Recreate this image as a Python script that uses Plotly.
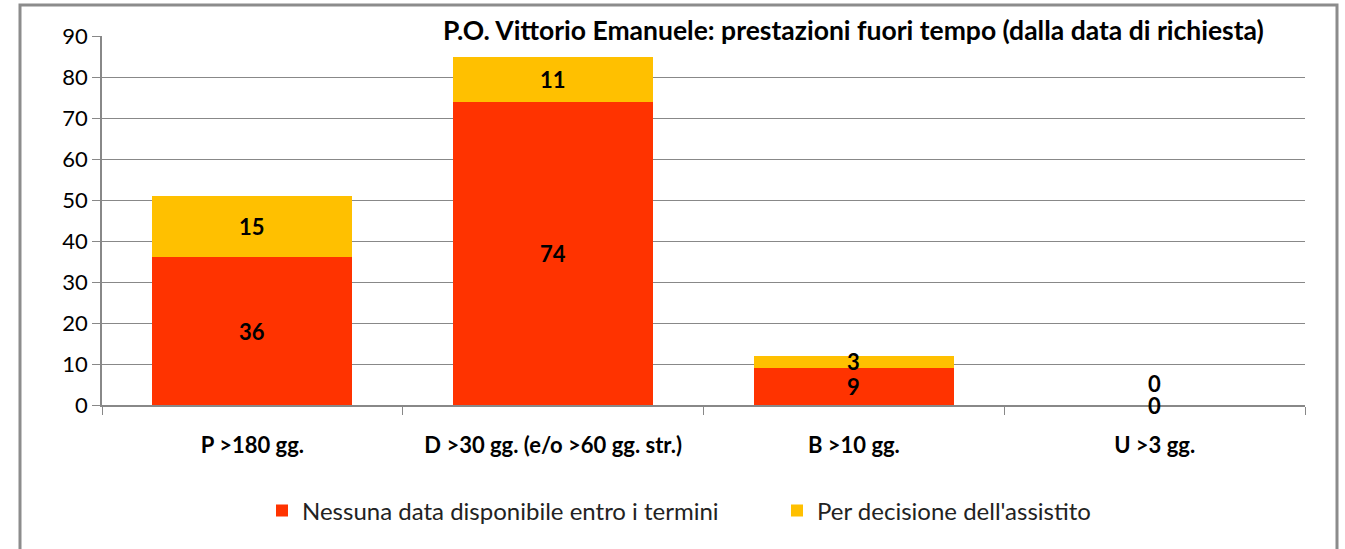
import plotly.graph_objects as go

categories = ["P >180 gg.", "D >30 gg. (e/o >60 gg. str.)", "B >10 gg.", "U >3 gg."]
series_names = ["Nessuna data disponibile entro i termini", "Per decisione dell'assistito"]
red_values = [36, 74, 9, 0]
yellow_values = [15, 11, 3, 0]
colors = ["#FF3300", "#FFC000"]
title_text = "P.O. Vittorio Emanuele: prestazioni fuori tempo (dalla data di richiesta)"

FONT = "Lato"
W, H = 1345, 549
L, R, T, B = 102, 40, 36, 144
pw = W - L - R
ph = H - T - B

fig = go.Figure()
fig.add_trace(go.Bar(x=categories, y=red_values, name=series_names[0],
                     marker=dict(color=colors[0], line=dict(width=0))))
fig.add_trace(go.Bar(x=categories, y=yellow_values, name=series_names[1],
                     marker=dict(color=colors[1], line=dict(width=0))))

annotations = []
for c, rv, yv in zip(categories, red_values, yellow_values):
    annotations.append(dict(x=c, y=rv / 2, text=f"<b>{rv}</b>", showarrow=False,
                            font=dict(family=FONT, size=22, color="black"),
                            xref="x", yref="y"))
    annotations.append(dict(x=c, y=rv + yv / 2, text=f"<b>{yv}</b>", showarrow=False,
                            yshift=22 if yv == 0 else 0,
                            font=dict(family=FONT, size=22, color="black"),
                            xref="x", yref="y"))

annotations.append(dict(text=f"<b>{title_text}</b>", x=(853 - L) / pw, y=1 + (T - 30) / ph,
                        xref="paper", yref="paper", showarrow=False, xanchor="center", yanchor="middle",
                        font=dict(family=FONT, size=26.5, color="black")))

shapes = [dict(type="rect", xref="paper", yref="paper",
               x0=(20 - L) / pw, x1=(1337 - L) / pw,
               y0=-(H + 10 - T - ph) / ph, y1=1 + (T - 5) / ph,
               line=dict(color="#8c8c8c", width=3), fillcolor="rgba(0,0,0,0)", layer="below")]

fig.update_layout(
    width=W, height=H,
    margin=dict(l=L, r=R, t=T, b=B, autoexpand=False),
    barmode="stack",
    bargap=0.335,
    plot_bgcolor="white",
    paper_bgcolor="white",
    showlegend=True,
    legend=dict(orientation="h", x=(262 - L) / pw, xanchor="left", y=-(511 - (T + ph)) / ph,
                yanchor="middle", font=dict(family=FONT, size=24, color="#222"),
                traceorder="normal", entrywidth=470, entrywidthmode="pixels"),
    annotations=annotations,
    shapes=shapes,
    xaxis=dict(type="category", tickson="boundaries", ticks="outside", ticklen=8,
               tickcolor="#888", showline=True, linecolor="#888", linewidth=1.5,
               showgrid=False, tickfont=dict(family=FONT, size=22, color="black", weight="bold"),
               ticklabelstandoff=20),
    yaxis=dict(range=[0, 90], dtick=10, ticks="outside", ticklen=8, tickcolor="#888",
               showline=True, linecolor="#888", linewidth=1.5, gridcolor="#888", gridwidth=1,
               tickfont=dict(family=FONT, size=22, color="black"), zeroline=False),
)

fig.write_html("out.html", config={"displayModeBar": False},
               post_script="document.body.style.margin='0';document.body.style.overflow='hidden';")
